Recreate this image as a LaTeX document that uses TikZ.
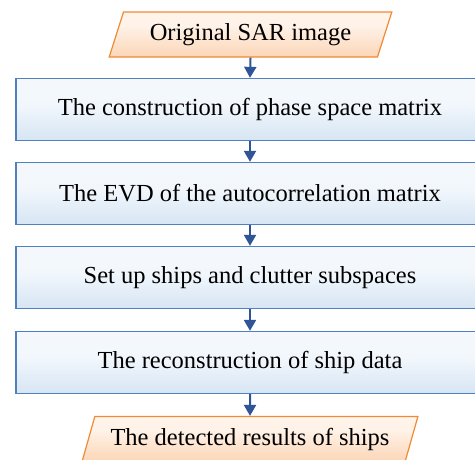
\documentclass[tikz,border=0pt]{standalone}
\usepackage{fontspec}
\setmainfont{Liberation Serif}
\usetikzlibrary{arrows.meta,shapes.geometric}
\definecolor{boxedge}{HTML}{4F81BD}
\definecolor{ioedge}{HTML}{F08A34}
\definecolor{flow}{HTML}{2F5597}
% vertical fills: pale at the top, deeper towards the bottom edge
\pgfdeclareverticalshading{boxfill}{100bp}{
  rgb(0bp)=(0.75,0.83,0.92);
  rgb(30bp)=(0.86,0.91,0.96); rgb(55bp)=(0.95,0.97,0.99);
  rgb(100bp)=(0.97,0.98,0.995)}
\pgfdeclareverticalshading{iofill}{100bp}{
  rgb(0bp)=(0.98,0.77,0.60); rgb(35bp)=(0.99,0.87,0.77);
  rgb(60bp)=(1,0.95,0.91); rgb(100bp)=(1,0.97,0.94)}
\tikzset{
  stepbox/.style={draw=boxedge, line width=1.3pt, rectangle,
    minimum width=468pt, minimum height=62pt, inner sep=0pt,
    shading=boxfill, font=\fontsize{24.5}{28}\selectfont},
  iobox/.style={draw=ioedge, line width=1.2pt, trapezium,
    trapezium left angle=63, trapezium right angle=117,
    trapezium stretches=true,
    minimum width=283pt, minimum height=45pt, inner sep=0pt,
    shading=iofill, font=\fontsize{24.5}{28}\selectfont},
  flowarrow/.style={draw=flow, line width=2pt,
    -{Triangle[width=12pt,length=11pt]}}
}
\begin{document}
\begin{tikzpicture}[x=1pt,y=-1pt]
  \useasboundingbox (0,0) rectangle (475,459);
  \clip (0,0) rectangle (475,459);
  \node[iobox] (src) at (250.5,34.5) {Original SAR image};
  \node[stepbox] (s1) at (250,109.5) {The construction of phase space matrix};
  \node[stepbox] (s2) at (250,193.5) {The EVD of the autocorrelation matrix};
  \node[stepbox] (s3) at (250,277.5) {Set up ships and clutter subspaces};
  \node[stepbox] (s4) at (250,362.5) {The reconstruction of ship data};
  \node[iobox, minimum width=336pt] (out) at (250,439) {The detected results of ships};
  \draw[flowarrow] (src.south) -- (s1.north);
  \draw[flowarrow] (s1.south) -- (s2.north);
  \draw[flowarrow] (s2.south) -- (s3.north);
  \draw[flowarrow] (s3.south) -- (s4.north);
  \draw[flowarrow] (s4.south) -- (out.north);
\end{tikzpicture}
\end{document}
